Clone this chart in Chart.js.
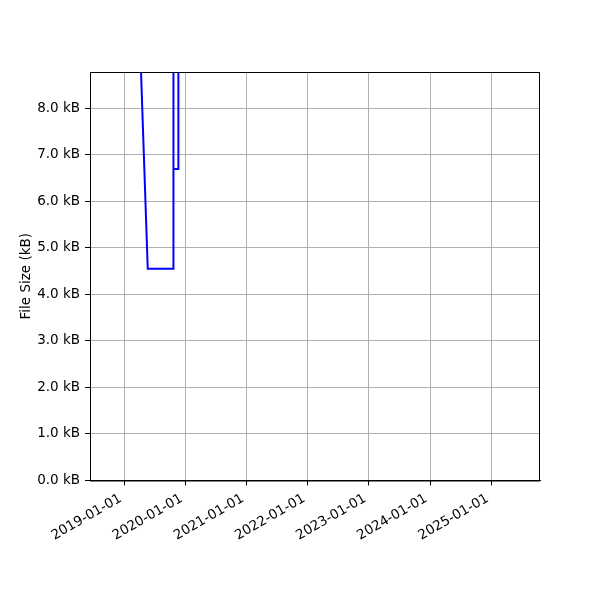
<!DOCTYPE html>
<html>
<head>
<meta charset="utf-8">
<script src="https://cdn.jsdelivr.net/npm/chart.js@4"></script>
<style>
  html, body { margin: 0; padding: 0; background: #fff; }
  #wrap { width: 600px; height: 600px; }
</style>
</head>
<body>
<div id="wrap"><canvas id="sizeChart" width="600" height="600"></canvas></div>
<script>
// data (sizes in kB, points above 8.8 kB run off the top)
const dates = ['2019-03-11', '2019-05-21', '2019-10-20', '2019-10-21', '2019-10-22', '2019-11-19', '2019-11-20'];
const sizes = [12.0, 4.55, 4.55, 11.5, 6.69, 6.69, 11.5];
const yearTicks = ['2019-01-01', '2020-01-01', '2021-01-01', '2022-01-01', '2023-01-01', '2024-01-01', '2025-01-01'];
const xMinDate = '2018-06-10';
const xMaxDate = '2025-10-19';
const yMax = 8.774;

const ts = d => Date.parse(d + 'T00:00:00Z');
const fmt = v => new Date(v).toISOString().slice(0, 10);

(() => {
  const ctx = document.getElementById('sizeChart').getContext('2d');
  const font = { family: 'DejaVu Sans', size: 13.5 };

  new Chart(ctx, {
    type: 'line',
    data: {
      datasets: [{
        data: dates.map((d, i) => ({ x: ts(d), y: sizes[i] })),
        borderColor: '#0000ff',
        borderWidth: 2,
        pointRadius: 0,
        tension: 0,
        fill: false
      }]
    },
    options: {
      responsive: false,
      animation: false,
      layout: { padding: { top: 72, right: 60, left: 18, bottom: 0 } },
      plugins: { legend: { display: false }, tooltip: { enabled: false } },
      scales: {
        x: {
          type: 'linear',
          min: ts(xMinDate),
          max: ts(xMaxDate),
          afterBuildTicks: axis => { axis.ticks = yearTicks.map(d => ({ value: ts(d) })); },
          afterFit: axis => { axis.height = 119.5; },
          ticks: {
            // trailing space nudges the rotated label left like matplotlib's ha=right
            callback: v => fmt(v) + ' ',
            maxRotation: 30,
            minRotation: 30,
            autoSkip: false,
            color: '#000',
            font: font,
            padding: 3
          },
          grid: { color: '#b0b0b0', lineWidth: 1, tickLength: 5, tickColor: '#000' },
          border: { color: '#000', width: 1 }
        },
        y: {
          min: 0,
          max: yMax,
          afterBuildTicks: axis => {
            const t = [];
            for (let v = 0; v <= 8; v++) t.push({ value: v });
            axis.ticks = t;
          },
          afterFit: axis => { axis.width = 72; },
          ticks: {
            callback: v => v.toFixed(1) + ' kB',
            color: '#000',
            font: font,
            padding: 5
          },
          title: { display: true, text: 'File Size (kB)', color: '#000', font: font, padding: 0 },
          grid: { color: '#b0b0b0', lineWidth: 1, tickLength: 5, tickColor: '#000' },
          border: { color: '#000', width: 1 }
        }
      }
    },
    plugins: [{
      id: 'frame',
      afterDraw: chart => {
        const a = chart.chartArea;
        const c = chart.ctx;
        c.save();
        c.strokeStyle = '#000';
        c.lineWidth = 1;
        c.strokeRect(a.left + 0.5, a.top + 0.5, a.right - a.left - 1, a.bottom - a.top);
        c.restore();
      }
    }]
  });
})();
</script>
</body>
</html>
